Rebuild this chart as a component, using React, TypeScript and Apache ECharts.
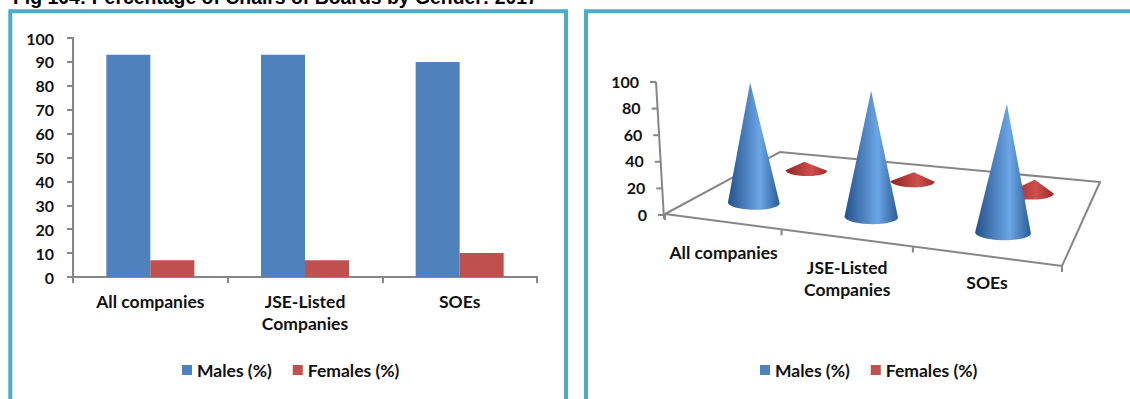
import React, { useEffect, useRef } from "react";
import * as echarts from "echarts";

const categories = ["All companies", "JSE-Listed\nCompanies", "SOEs"];
const males = [93, 93, 90];
const females = [7, 7, 10];
const rightTicks = [0, 20, 40, 60, 80, 100];
const titleText = "Fig 104: Percentage of Chairs of Boards by Gender: 2017";
const seriesNames = ["Males (%)", "Females (%)"];

const BLUE = "#4F81BD";
const RED = "#C0504D";
const FRAME = "#4BACC6";
const AXIS = "#868686";
const INK = "#111111";
const FONT = "Lato";

// Perspective floor of the right-hand chart (unit square -> screen quad)
const Q = { p00: [665, 214], p10: [1062, 266], p11: [1100, 182], p01: [780, 152] };
function makeHomography() {
  const [x0, y0] = Q.p00, [x1, y1] = Q.p10, [x2, y2] = Q.p11, [x3, y3] = Q.p01;
  const dx1 = x1 - x2, dx2 = x3 - x2, sx = x0 - x1 + x2 - x3;
  const dy1 = y1 - y2, dy2 = y3 - y2, sy = y0 - y1 + y2 - y3;
  const den = dx1 * dy2 - dx2 * dy1;
  const g = (sx * dy2 - dx2 * sy) / den;
  const h = (dx1 * sy - sx * dy1) / den;
  const a = x1 - x0 + g * x1, b = x3 - x0 + h * x3, c = x0;
  const d = y1 - y0 + g * y1, e = y3 - y0 + h * y3, f = y0;
  return (u: number, v: number) => {
    const w = g * u + h * v + 1;
    return [(a * u + b * v + c) / w, (d * u + e * v + f) / w];
  };
}
const project = makeHomography();

function coneRender(depth: number, stops: string[], rA: number, rB: number) {
  return (_params: any, api: any) => {
    const i = api.value(0);
    const val = api.value(1);
    const u = (i + 0.5) / categories.length;
    const [px, cy] = project(u, depth);
    const cx = px + 2;
    const a = project(u - 1 / 6, depth);
    const b = project(u + 1 / 6, depth);
    const catW = Math.hypot(b[0] - a[0], b[1] - a[1]);
    const rx = rA + rB * catW;
    const ry = rx * 0.27;
    const slope = (b[1] - a[1]) / (b[0] - a[0]);
    const hgt = Math.abs(api.size([0, 1])[1]) * val * (0.58 + 0.45 * (catW / 128));
    const lean = (cx - 875) * 0.03;
    const points: number[][] = [[cx + lean, cy - hgt]];
    const N = 32;
    for (let k = 0; k <= N; k++) {
      const t = (Math.PI * k) / N;
      const ex = rx * Math.cos(t);
      const ey = ry * Math.sin(t);
      points.push([cx + ex, cy + ey + ex * slope * 0.15]);
    }
    return {
      type: "polygon",
      shape: { points },
      style: {
        fill: new echarts.graphic.LinearGradient(0, 0, 1, 0, [
          { offset: 0, color: stops[0] },
          { offset: 0.62, color: stops[1] },
          { offset: 1, color: stops[2] },
        ]),
      },
    };
  };
}

function floorRender() {
  return {
    type: "group",
    children: [
      {
        type: "polygon",
        shape: { points: [Q.p00, Q.p10, Q.p11, Q.p01] },
        style: { fill: "#FFFFFF", stroke: AXIS, lineWidth: 2 },
      },
      ...[0, 1, 2, 3].map((k) => {
        const p = project(k / 3, 0);
        return {
          type: "line",
          shape: { x1: p[0], y1: p[1], x2: p[0], y2: p[1] + 6 },
          style: { stroke: AXIS, lineWidth: 2 },
        };
      }),
    ],
  };
}

function wallRender(_p: any, api: any) {
  const top = api.coord([0, 100]);
  const bottom = api.coord([0, 0]);
  const skew = (v: number) => 656 + ((100 - v) / 100) * 8;
  const ticks = rightTicks.map((v) => {
    const y = api.coord([0, v])[1];
    return {
      type: "line",
      shape: { x1: skew(v) - 6, y1: y, x2: skew(v), y2: y },
      style: { stroke: AXIS, lineWidth: 2 },
    };
  });
  const labels = rightTicks.map((v) => ({
    type: "text",
    x: skew(v) - 17,
    y: api.coord([0, v])[1] - 1,
    style: {
      text: String(v),
      fill: INK,
      font: `bold 16px ${FONT}`,
      align: "right",
      verticalAlign: "middle",
    },
  }));
  return {
    type: "group",
    children: [
      {
        type: "line",
        shape: { x1: skew(100), y1: top[1], x2: skew(0), y2: bottom[1] + 4 },
        style: { stroke: AXIS, lineWidth: 2 },
      },
      ...ticks,
      ...labels,
    ],
  };
}

const labelOffsets = [31, 41, 27];
function labelRender(_p: any, api: any) {
  const i = api.value(0);
  const p = project((i + 0.5) / categories.length, 0);
  return {
    type: "text",
    x: p[0] + 2,
    y: p[1] + labelOffsets[i],
    style: {
      text: categories[i],
      fill: INK,
      font: `bold 17.5px ${FONT}`,
      align: "center",
      verticalAlign: "middle",
      lineHeight: 22,
    },
  };
}

function buildOption() {
  const legendText = { fontFamily: FONT, fontWeight: "bold", fontSize: 17.5, color: INK };
  return {
    animation: false,
    backgroundColor: "#FFFFFF",
    title: {
      text: titleText,
      left: 8,
      top: -17.5,
      textStyle: { fontFamily: "Liberation Sans", fontWeight: "bold", fontSize: 19.4, color: "#000" },
    },
    graphic: [
      { type: "rect", z: 0, shape: { x: 10.3, y: 11.3, width: 555.7, height: 420 }, style: { fill: "none", stroke: FRAME, lineWidth: 4 } },
      { type: "rect", z: 0, shape: { x: 586, y: 11.3, width: 600, height: 420 }, style: { fill: "none", stroke: FRAME, lineWidth: 4 } },
    ],
    legend: [
      { left: 177, top: 356, itemWidth: 10, itemHeight: 10, itemGap: 21, icon: "rect", data: seriesNames, textStyle: legendText },
      { left: 755, top: 356, itemWidth: 10, itemHeight: 10, itemGap: 21, icon: "rect", data: seriesNames, textStyle: legendText },
    ],
    grid: [
      { left: 73, top: 38, width: 464, height: 239 },
      { left: 660, top: 82, width: 440, height: 133 },
    ],
    xAxis: [
      {
        type: "category", gridIndex: 0, data: categories,
        axisLine: { lineStyle: { color: AXIS, width: 2 } },
        axisTick: { show: true, length: 6, alignWithLabel: false, lineStyle: { color: AXIS, width: 2 } },
        axisLabel: { color: INK, fontFamily: FONT, fontWeight: "bold", fontSize: 17.5, margin: 13, lineHeight: 22, interval: 0 },
      },
      { type: "category", gridIndex: 1, data: categories, show: false },
    ],
    yAxis: [
      {
        type: "value", gridIndex: 0, min: 0, max: 100, interval: 10,
        splitLine: { show: false },
        axisLine: { show: true, lineStyle: { color: AXIS, width: 2 } },
        axisTick: { show: true, length: 6, lineStyle: { color: AXIS, width: 2 } },
        axisLabel: { color: INK, fontFamily: FONT, fontWeight: "bold", fontSize: 16, margin: 19 },
      },
      {
        type: "value", gridIndex: 1, min: 0, max: 100, interval: 20, show: false,
        splitLine: { show: false },
      },
    ],
    series: [
      { name: seriesNames[0], type: "bar", xAxisIndex: 0, yAxisIndex: 0, data: males, barWidth: 44, barGap: "0%", itemStyle: { color: BLUE } },
      { name: seriesNames[1], type: "bar", xAxisIndex: 0, yAxisIndex: 0, data: females, barWidth: 44, barGap: "0%", itemStyle: { color: RED } },
      {
        type: "custom", name: "floor", xAxisIndex: 1, yAxisIndex: 1, z: 1, silent: true,
        data: [[0, 0]], renderItem: floorRender, encode: { x: 0, y: 1 },
      },
      {
        type: "custom", name: "wall", xAxisIndex: 1, yAxisIndex: 1, z: 1, silent: true,
        data: [[0, 0]], renderItem: wallRender, encode: { x: 0, y: 1 },
      },
      {
        type: "custom", name: seriesNames[1], xAxisIndex: 1, yAxisIndex: 1, z: 2,
        itemStyle: { color: RED },
        data: females.map((v, i) => [i, v]),
        renderItem: coneRender(0.74, ["#8E2422", "#D0504C", "#9E2A28"], 8.5, 0.12),
        encode: { x: 0, y: 1 },
      },
      {
        type: "custom", name: seriesNames[0], xAxisIndex: 1, yAxisIndex: 1, z: 3,
        itemStyle: { color: BLUE },
        data: males.map((v, i) => [i, v]),
        renderItem: coneRender(0.24, ["#24528C", "#6CA6E6", "#2A5C98"], 18, 0.07),
        encode: { x: 0, y: 1 },
      },
      {
        type: "custom", name: "labels", xAxisIndex: 1, yAxisIndex: 1, z: 4, silent: true,
        data: categories.map((_c, i) => [i, 0]),
        renderItem: labelRender, encode: { x: 0, y: 1 },
      },
    ],
  };
}

export default function App() {
  const ref = useRef<HTMLDivElement>(null);
  useEffect(() => {
    document.body.style.margin = "0";
    const chart = echarts.init(ref.current!, undefined, { renderer: "svg" });
    chart.setOption(buildOption() as any);
    return () => chart.dispose();
  }, []);
  return <div ref={ref} style={{ width: 1130, height: 399, overflow: "hidden" }} />;
}
